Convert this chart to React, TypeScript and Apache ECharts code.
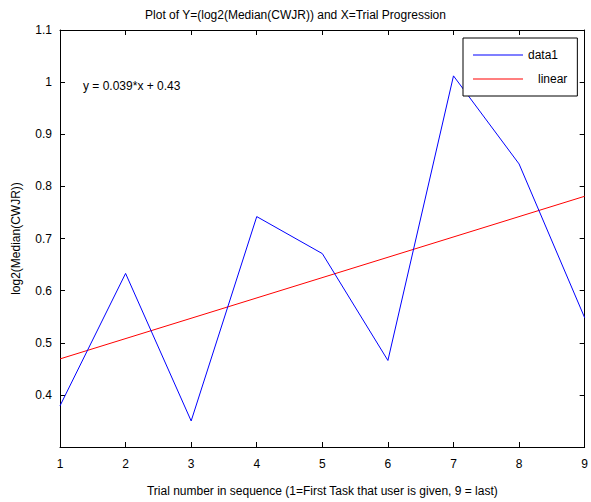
import React, { useEffect, useRef } from "react";
import * as echarts from "echarts";

const trialNumbers = [1, 2, 3, 4, 5, 6, 7, 8, 9];
const data1Values = [0.379, 0.633, 0.35, 0.742, 0.671, 0.466, 1.012, 0.843, 0.548];
const linearX = [1, 9];
const linearValues = [0.469, 0.781];

const titleText = "Plot of Y=(log2(Median(CWJR)) and X=Trial Progression";
const xLabel = "Trial number in sequence (1=First Task that user is given, 9 = last)";
const yLabel = "log2(Median(CWJR))";
const fitText = "y = 0.039*x + 0.43";

const FONT = "'Liberation Sans', Arial, Helvetica, sans-serif";

export default function App() {
  const ref = useRef<HTMLDivElement>(null);
  useEffect(() => {
    if (!ref.current) return;
    const chart = echarts.init(ref.current, undefined, { renderer: "svg" });
    const fmtY = (v: number) => (Math.abs(v - 0.3) < 1e-6 ? "" : String(+v.toFixed(1)));
    const axisLine = { show: true, onZero: false, lineStyle: { color: "#000", width: 1 } };
    const tick = { show: true, inside: true, length: 5, lineStyle: { color: "#000", width: 1 } };
    chart.setOption({
      animation: false,
      backgroundColor: "#fff",
      textStyle: { fontFamily: FONT },
      title: {
        text: titleText,
        left: "center",
        top: 4,
        textStyle: { fontSize: 12, fontWeight: "normal", color: "#000", fontFamily: FONT },
      },
      grid: { left: 60, right: 3, top: 30, bottom: 55, containLabel: false },
      legend: {
        orient: "vertical",
        left: 463,
        top: 38,
        padding: [11, 10, 11, 10],
        itemGap: 12,
        itemWidth: 50,
        itemHeight: 1,
        icon: "rect",
        borderColor: "#000",
        borderWidth: 1,
        backgroundColor: "#fff",
        textStyle: { fontSize: 12, color: "#000", fontFamily: FONT, lineHeight: 12 },
        formatter: (name: string) => (name === "linear" ? "   linear" : name),
        data: ["data1", "linear"],
      },
      xAxis: [
        {
          type: "value",
          min: 1,
          max: 9,
          interval: 1,
          name: xLabel,
          nameLocation: "middle",
          nameGap: 38,
          nameTextStyle: { fontSize: 12, color: "#000", fontFamily: FONT },
          axisLine,
          axisTick: tick,
          axisLabel: { fontSize: 12, color: "#000", margin: 11, fontFamily: FONT },
          splitLine: { show: false },
        },
        {
          type: "value",
          position: "top",
          min: 1,
          max: 9,
          interval: 1,
          axisLine,
          axisTick: tick,
          axisLabel: { show: false },
          splitLine: { show: false },
        },
      ],
      yAxis: [
        {
          type: "value",
          min: 0.3,
          max: 1.1,
          interval: 0.1,
          name: yLabel,
          nameLocation: "middle",
          nameGap: 38,
          nameTextStyle: { fontSize: 12, color: "#000", fontFamily: FONT },
          axisLine,
          axisTick: tick,
          axisLabel: { fontSize: 12, color: "#000", margin: 8, formatter: fmtY, fontFamily: FONT },
          splitLine: { show: false },
        },
        {
          type: "value",
          position: "right",
          min: 0.3,
          max: 1.1,
          interval: 0.1,
          axisLine,
          axisTick: tick,
          axisLabel: { show: false },
          splitLine: { show: false },
        },
      ],
      series: [
        {
          name: "data1",
          type: "line",
          data: trialNumbers.map((x, i) => [x, data1Values[i]]),
          showSymbol: false,
          symbol: "none",
          lineStyle: { color: "#0000ff", width: 1 },
          itemStyle: { color: "#0000ff" },
          z: 3,
        },
        {
          name: "linear",
          type: "line",
          data: linearX.map((x, i) => [x, linearValues[i]]),
          showSymbol: false,
          symbol: "none",
          lineStyle: { color: "#ff0000", width: 1 },
          itemStyle: { color: "#ff0000" },
          z: 2,
        },
      ],
      graphic: [
        {
          type: "text",
          left: 83,
          top: 80,
          style: { text: fitText, fill: "#000", font: `12px ${FONT}` },
        },
      ],
    });
    return () => chart.dispose();
  }, []);
  return (
    <div
      ref={ref}
      style={{ position: "fixed", left: 0, top: 0, width: 591, height: 502 }}
    />
  );
}
